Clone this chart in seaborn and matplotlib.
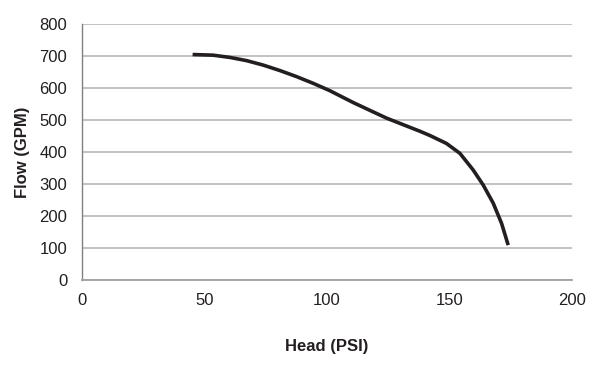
import matplotlib
matplotlib.use("Agg")
import matplotlib.pyplot as plt
import seaborn as sns
import pandas as pd

head = [45.2, 53.6, 60.4, 67.2, 74.0, 80.8, 87.6, 94.4, 101.2, 110.7, 124.4,
        138.0, 142.0, 148.8, 154.3, 159.7, 163.8, 167.9, 171.3, 174.0]
flow = [705, 703, 696, 686, 672, 655, 636, 615, 592, 555, 506,
        465, 452, 427, 396, 344, 297, 240, 177, 109]
x_ticks = [0, 50, 100, 150, 200]
y_ticks = [0, 100, 200, 300, 400, 500, 600, 700, 800]

sns.set_style("white")
plt.rcParams['font.family'] = ['Liberation Sans', 'DejaVu Sans']

df = pd.DataFrame({"Head (PSI)": head, "Flow (GPM)": flow})

fig = plt.figure(figsize=(6.02, 3.66), dpi=100)
ax = fig.add_axes([0.136, 0.235, 0.814, 0.699])
for y in y_ticks:
    ax.axhline(y, color="#bdbdbd", lw=1.3, zorder=0)
sns.lineplot(data=df, x="Head (PSI)", y="Flow (GPM)", sort=False, color="#231f20",
             lw=2.6, ax=ax, zorder=3, solid_joinstyle="round", solid_capstyle="butt")
ax.set_xlim(0, 200)
ax.set_ylim(0, 800)
ax.set_xticks(x_ticks)
ax.set_yticks(y_ticks)
for s in ["top", "right"]:
    ax.spines[s].set_visible(False)
ax.spines["left"].set_color("#808080")
ax.spines["left"].set_linewidth(1.0)
ax.spines["bottom"].set_color("#a0a0a0")
ax.spines["bottom"].set_linewidth(1.3)
ax.tick_params(axis="x", direction="inout", length=7.2, width=1.0, color="#808080",
               labelsize=12, labelcolor="#231f20", pad=6)
ax.tick_params(axis="y", direction="out", length=3.6, width=1.0, color="#808080",
               labelsize=12, labelcolor="#231f20", pad=7)
ax.set_xlabel("Head (PSI)", fontsize=12, fontweight="bold", color="#231f20", labelpad=22)
ax.set_ylabel("Flow (GPM)", fontsize=12, fontweight="bold", color="#231f20", labelpad=7)
fig.savefig("out.png", dpi=100)
